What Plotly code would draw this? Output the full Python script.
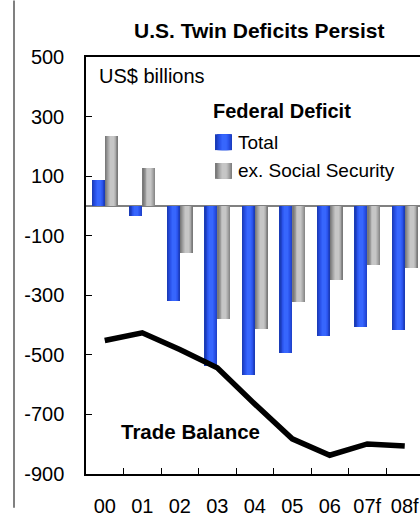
import plotly.graph_objects as go

# Fiscal years (f = forecast)
years = ["00", "01", "02", "03", "04", "05", "06", "07f", "08f"]

# Federal deficit, US$ billions
deficit_total = [86, -35, -318, -538, -568, -495, -438, -407, -416]
deficit_ex_ss = [236, 127, -158, -378, -414, -322, -249, -197, -207]

# Goods trade balance, US$ billions
trade_balance = [-452, -426, -482, -543, -665, -782, -837, -799, -806]

y_ticks = [-900, -700, -500, -300, -100, 100, 300, 500]
y_tick_labels = ["-900", "-700", "-500", "-300", "-100", "100", "300", "500"]

FONT = "Liberation Sans, Arial, sans-serif"

W, H = 420, 517
L, R, T, B = 86, 0, 57, 39
PW, PH = W - L - R, H - T - B


def px(x):
    return (x - L) / PW


def py(y):
    return (H - B - y) / PH


BAR_W = 0.347
# shading layers (fraction of bar width, colour) to give a rounded look
blue_layers = [(1.0, "#1a3cb8"), (0.86, "#2043cc"), (0.72, "#254bdc"),
               (0.58, "#2a53ea"), (0.44, "#305cf5"), (0.3, "#3766fd")]
grey_layers = [(1.0, "#7a7a7a"), (0.86, "#8a8a8a"), (0.72, "#9b9b9b"),
               (0.58, "#ababab"), (0.44, "#bababa"), (0.3, "#c6c6c6")]

fig = go.Figure()


def add_shaded_bars(values, left_offset, layers):
    for frac, color in layers:
        w = BAR_W * frac
        off = left_offset + (BAR_W - w) / 2 + (BAR_W * 0.04 if frac < 1 else 0)
        fig.add_trace(go.Bar(
            x=years, y=values, width=w, offset=off,
            marker=dict(color=color, line=dict(width=0)),
            showlegend=False, hoverinfo="skip",
        ))


add_shaded_bars(deficit_total, -BAR_W, blue_layers)
add_shaded_bars(deficit_ex_ss, 0.0, grey_layers)

fig.add_trace(go.Scatter(
    x=years, y=trade_balance, mode="lines",
    line=dict(color="black", width=5.5),
    showlegend=False, hoverinfo="skip",
))

shapes = []
# gray rule down the left edge
shapes.append(dict(type="line", xref="paper", yref="paper",
                   x0=px(14), x1=px(14), y0=py(0), y1=py(512),
                   line=dict(color="#808080", width=2)))


def swatch(x0, y0, x1, y1, layers):
    for frac, color in layers:
        w = (x1 - x0) * frac
        cx = (x0 + x1) / 2 + ((x1 - x0) * 0.04 if frac < 1 else 0)
        shapes.append(dict(type="rect", xref="paper", yref="paper",
                           x0=px(cx - w / 2), x1=px(cx + w / 2),
                           y0=py(y1), y1=py(y0),
                           line=dict(width=0), fillcolor=color))


swatch(215, 135, 232, 151, blue_layers)
swatch(215, 164, 232, 180, grey_layers)

annotations = [
    dict(text="<b>U.S. Twin Deficits Persist</b>", x=px(259), y=py(30),
         xanchor="center", yanchor="middle", font=dict(size=21)),
    dict(text="US$ billions", x=px(97), y=py(76),
         xanchor="left", yanchor="middle", font=dict(size=20)),
    dict(text="<b>Federal Deficit</b>", x=px(211), y=py(112),
         xanchor="left", yanchor="middle", font=dict(size=20)),
    dict(text="Total", x=px(236), y=py(143),
         xanchor="left", yanchor="middle", font=dict(size=19)),
    dict(text="ex. Social Security", x=px(236), y=py(172),
         xanchor="left", yanchor="middle", font=dict(size=19)),
    dict(text="<b>Trade Balance</b>", x=px(119), y=py(435),
         xanchor="left", yanchor="middle", font=dict(size=20.5)),
]
for a in annotations:
    a.update(xref="paper", yref="paper", showarrow=False)
    a["font"].update(family=FONT, color="black")

fig.update_layout(
    width=W, height=H,
    margin=dict(l=L, r=R, t=T, b=B, pad=0),
    paper_bgcolor="white", plot_bgcolor="white",
    barmode="overlay", bargap=0,
    font=dict(family=FONT, size=20, color="black"),
    shapes=shapes, annotations=annotations,
    xaxis=dict(
        type="category", range=[-0.5, -0.5 + PW / 37.5],
        showgrid=False, zeroline=False,
        showline=True, linecolor="black", linewidth=1.5, mirror=True,
        ticks="inside", ticklen=6, tickwidth=1, tickcolor="black",
        tickson="boundaries", ticklabelstandoff=13,
        tickfont=dict(size=20),
    ),
    yaxis=dict(
        range=[-900, 500], tickvals=y_ticks, ticktext=y_tick_labels,
        showgrid=False,
        zeroline=True, zerolinecolor="#808080", zerolinewidth=2,
        showline=True, linecolor="black", linewidth=1.5,
        ticks="inside", ticklen=6, tickwidth=1, tickcolor="black",
        ticklabelstandoff=16, layer="above traces",
        tickfont=dict(size=20),
    ),
)

fig.write_html("out.html")
